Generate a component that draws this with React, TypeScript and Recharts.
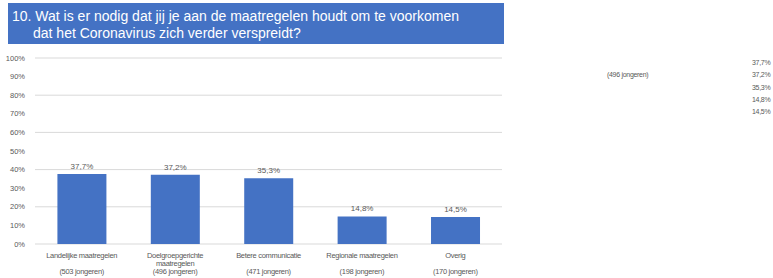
import React from "react";
import { BarChart, Bar, XAxis, YAxis, CartesianGrid, LabelList } from "recharts";

const titleLines = [
  "10. Wat is er nodig dat jij je aan de maatregelen houdt om te voorkomen",
  "dat het Coronavirus zich verder verspreidt?",
];
const categoryLines: string[][] = [
  ["Landelijke maatregelen"],
  ["Doelgroepgerichte", "maatregelen"],
  ["Betere communicatie"],
  ["Regionale maatregelen"],
  ["Overig"],
];
const respondents = ["(503 jongeren)", "(496 jongeren)", "(471 jongeren)", "(198 jongeren)", "(170 jongeren)"];
const percentages = [37.7, 37.2, 35.3, 14.8, 14.5];
const yTicks = [0, 10, 20, 30, 40, 50, 60, 70, 80, 90, 100];
const strayPercentLabels = ["37,7%", "37,2%", "35,3%", "14,8%", "14,5%"];
const strayRespondent = "(496 jongeren)";

const data = categoryLines.map((lines, i) => ({
  key: "c" + i,
  lines,
  resp: respondents[i],
  value: percentages[i],
}));

const fmt = (v: number) => v.toFixed(1).replace(".", ",") + "%";
const FONT = "'Liberation Sans', Arial, sans-serif";
const BLUE = "#4472C4";

const XTick = (props: any) => {
  const { x, y, payload } = props;
  const d = data[payload.index];
  if (!d) return null;
  return (
    <g transform={`translate(${x},${y})`}>
      {d.lines.map((l: string, i: number) => (
        <text key={i} x={0} y={6 + i * 8} textAnchor="middle" fontSize={7.5} fill="#595959" fontFamily={FONT} letterSpacing={-0.3}>
          {l}
        </text>
      ))}
      <text x={0} y={22} textAnchor="middle" fontSize={7.5} fill="#595959" fontFamily={FONT} letterSpacing={-0.3}>
        {d.resp}
      </text>
    </g>
  );
};

export default function App() {
  return (
    <div style={{ position: "absolute", left: 0, top: 0, width: 773, height: 278, background: "#fff", fontFamily: FONT }}>
      <div
        style={{
          position: "absolute",
          left: 8,
          top: 3,
          width: 496,
          height: 41,
          background: BLUE,
          color: "#fff",
          fontSize: 14,
          lineHeight: "17px",
          boxSizing: "border-box",
          paddingTop: 5,
          paddingLeft: 4,
          whiteSpace: "nowrap",
        }}
      >
        <div>{titleLines[0]}</div>
        <div style={{ paddingLeft: 21 }}>{titleLines[1]}</div>
      </div>
      <BarChart
        width={773}
        height={278}
        data={data}
        margin={{ top: 58, right: 271, bottom: 0, left: 0 }}
        barCategoryGap="24%"
      >
        <CartesianGrid vertical={false} stroke="#d9d9d9" />
        <XAxis dataKey="key" axisLine={false} tickLine={false} height={34} tick={<XTick />} interval={0} />
        <YAxis
          width={35}
          domain={[0, 100]}
          ticks={yTicks}
          axisLine={false}
          tickLine={false}
          tickFormatter={(v: number) => v + "%"}
          tick={{ fontSize: 7.5, fill: "#595959", fontFamily: FONT }}
          tickMargin={4}
        />
        <Bar dataKey="value" fill={BLUE} isAnimationActive={false}>
          <LabelList
            dataKey="value"
            position="top"
            formatter={(v: any) => fmt(Number(v))}
            style={{ fontSize: 8, fill: "#595959", fontFamily: FONT }}
            offset={5}
          />
        </Bar>
      </BarChart>
      <div style={{ position: "absolute", left: 607, top: 71, fontSize: 7, color: "#595959", letterSpacing: -0.3 }}>
        {strayRespondent}
      </div>
      {strayPercentLabels.map((t, i) => (
        <div
          key={i}
          style={{ position: "absolute", left: 752, top: 59 + i * 12.3, fontSize: 7, color: "#595959", letterSpacing: -0.3 }}
        >
          {t}
        </div>
      ))}
    </div>
  );
}
